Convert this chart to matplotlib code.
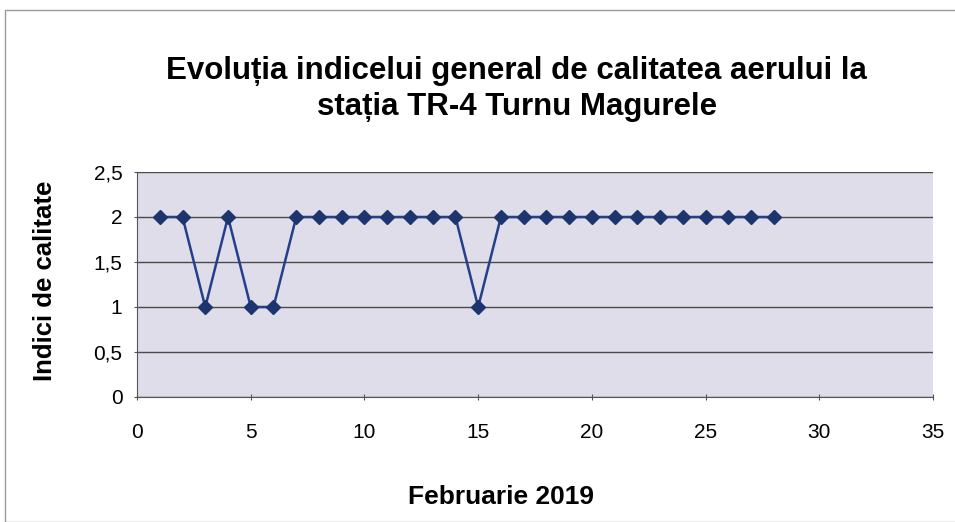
import matplotlib.pyplot as plt
from matplotlib.patches import Rectangle

plt.rcParams['font.family'] = ['Liberation Sans', 'DejaVu Sans']

days = list(range(1, 29))
values = [2, 2, 1, 2, 1, 1, 2, 2, 2, 2, 2, 2, 2, 2, 1, 2, 2, 2, 2, 2, 2, 2, 2, 2, 2, 2, 2, 2]
yticks = [0, 0.5, 1, 1.5, 2, 2.5]
ytick_labels = ['0', '0,5', '1', '1,5', '2', '2,5']
xticks = [0, 5, 10, 15, 20, 25, 30, 35]

fig = plt.figure(figsize=(9.55, 5.22), dpi=100)
ax = fig.add_axes([0.1435, 0.2395, 0.8335, 0.431])

# outer chart border
fig.patches.append(Rectangle((0.005, 0.0), 1.2, 0.981, transform=fig.transFigure,
                             fill=False, edgecolor='#9a9a9a', linewidth=1))

ax.set_facecolor('#dedde9')
ax.plot(days, values, color='#253f8a', linewidth=1.8, marker='D', markersize=7,
        markerfacecolor='#1d356f', markeredgecolor='#1d356f', zorder=3)

ax.set_xlim(0, 35)
ax.set_ylim(0, 2.5)
ax.set_xticks(xticks)
ax.set_yticks(yticks)
ax.set_yticklabels(ytick_labels)
ax.yaxis.grid(True, color='#4a4a4a', linewidth=1)
ax.set_axisbelow(True)

for side in ['top', 'right']:
    ax.spines[side].set_visible(False)
for side in ['left', 'bottom']:
    ax.spines[side].set_color('#555555')
ax.tick_params(labelsize=15, color='#555555', length=5, direction='inout')
ax.tick_params(axis='x', pad=16)
ax.tick_params(axis='y', pad=8)

fig.text(0.047, 0.462, 'Indici de calitate', fontsize=18.5, fontweight='bold',
         rotation=90, ha='center', va='center')
fig.text(0.525, 0.048, 'Februarie 2019', fontsize=19, fontweight='bold',
         ha='center', va='center')
fig.text(0.541, 0.829, 'Evoluția indicelui general de calitatea aerului la\nstația TR-4 Turnu Magurele',
         fontsize=22.5, fontweight='bold', ha='center', va='center', linespacing=1.25)

plt.savefig('out.png', dpi=100)
